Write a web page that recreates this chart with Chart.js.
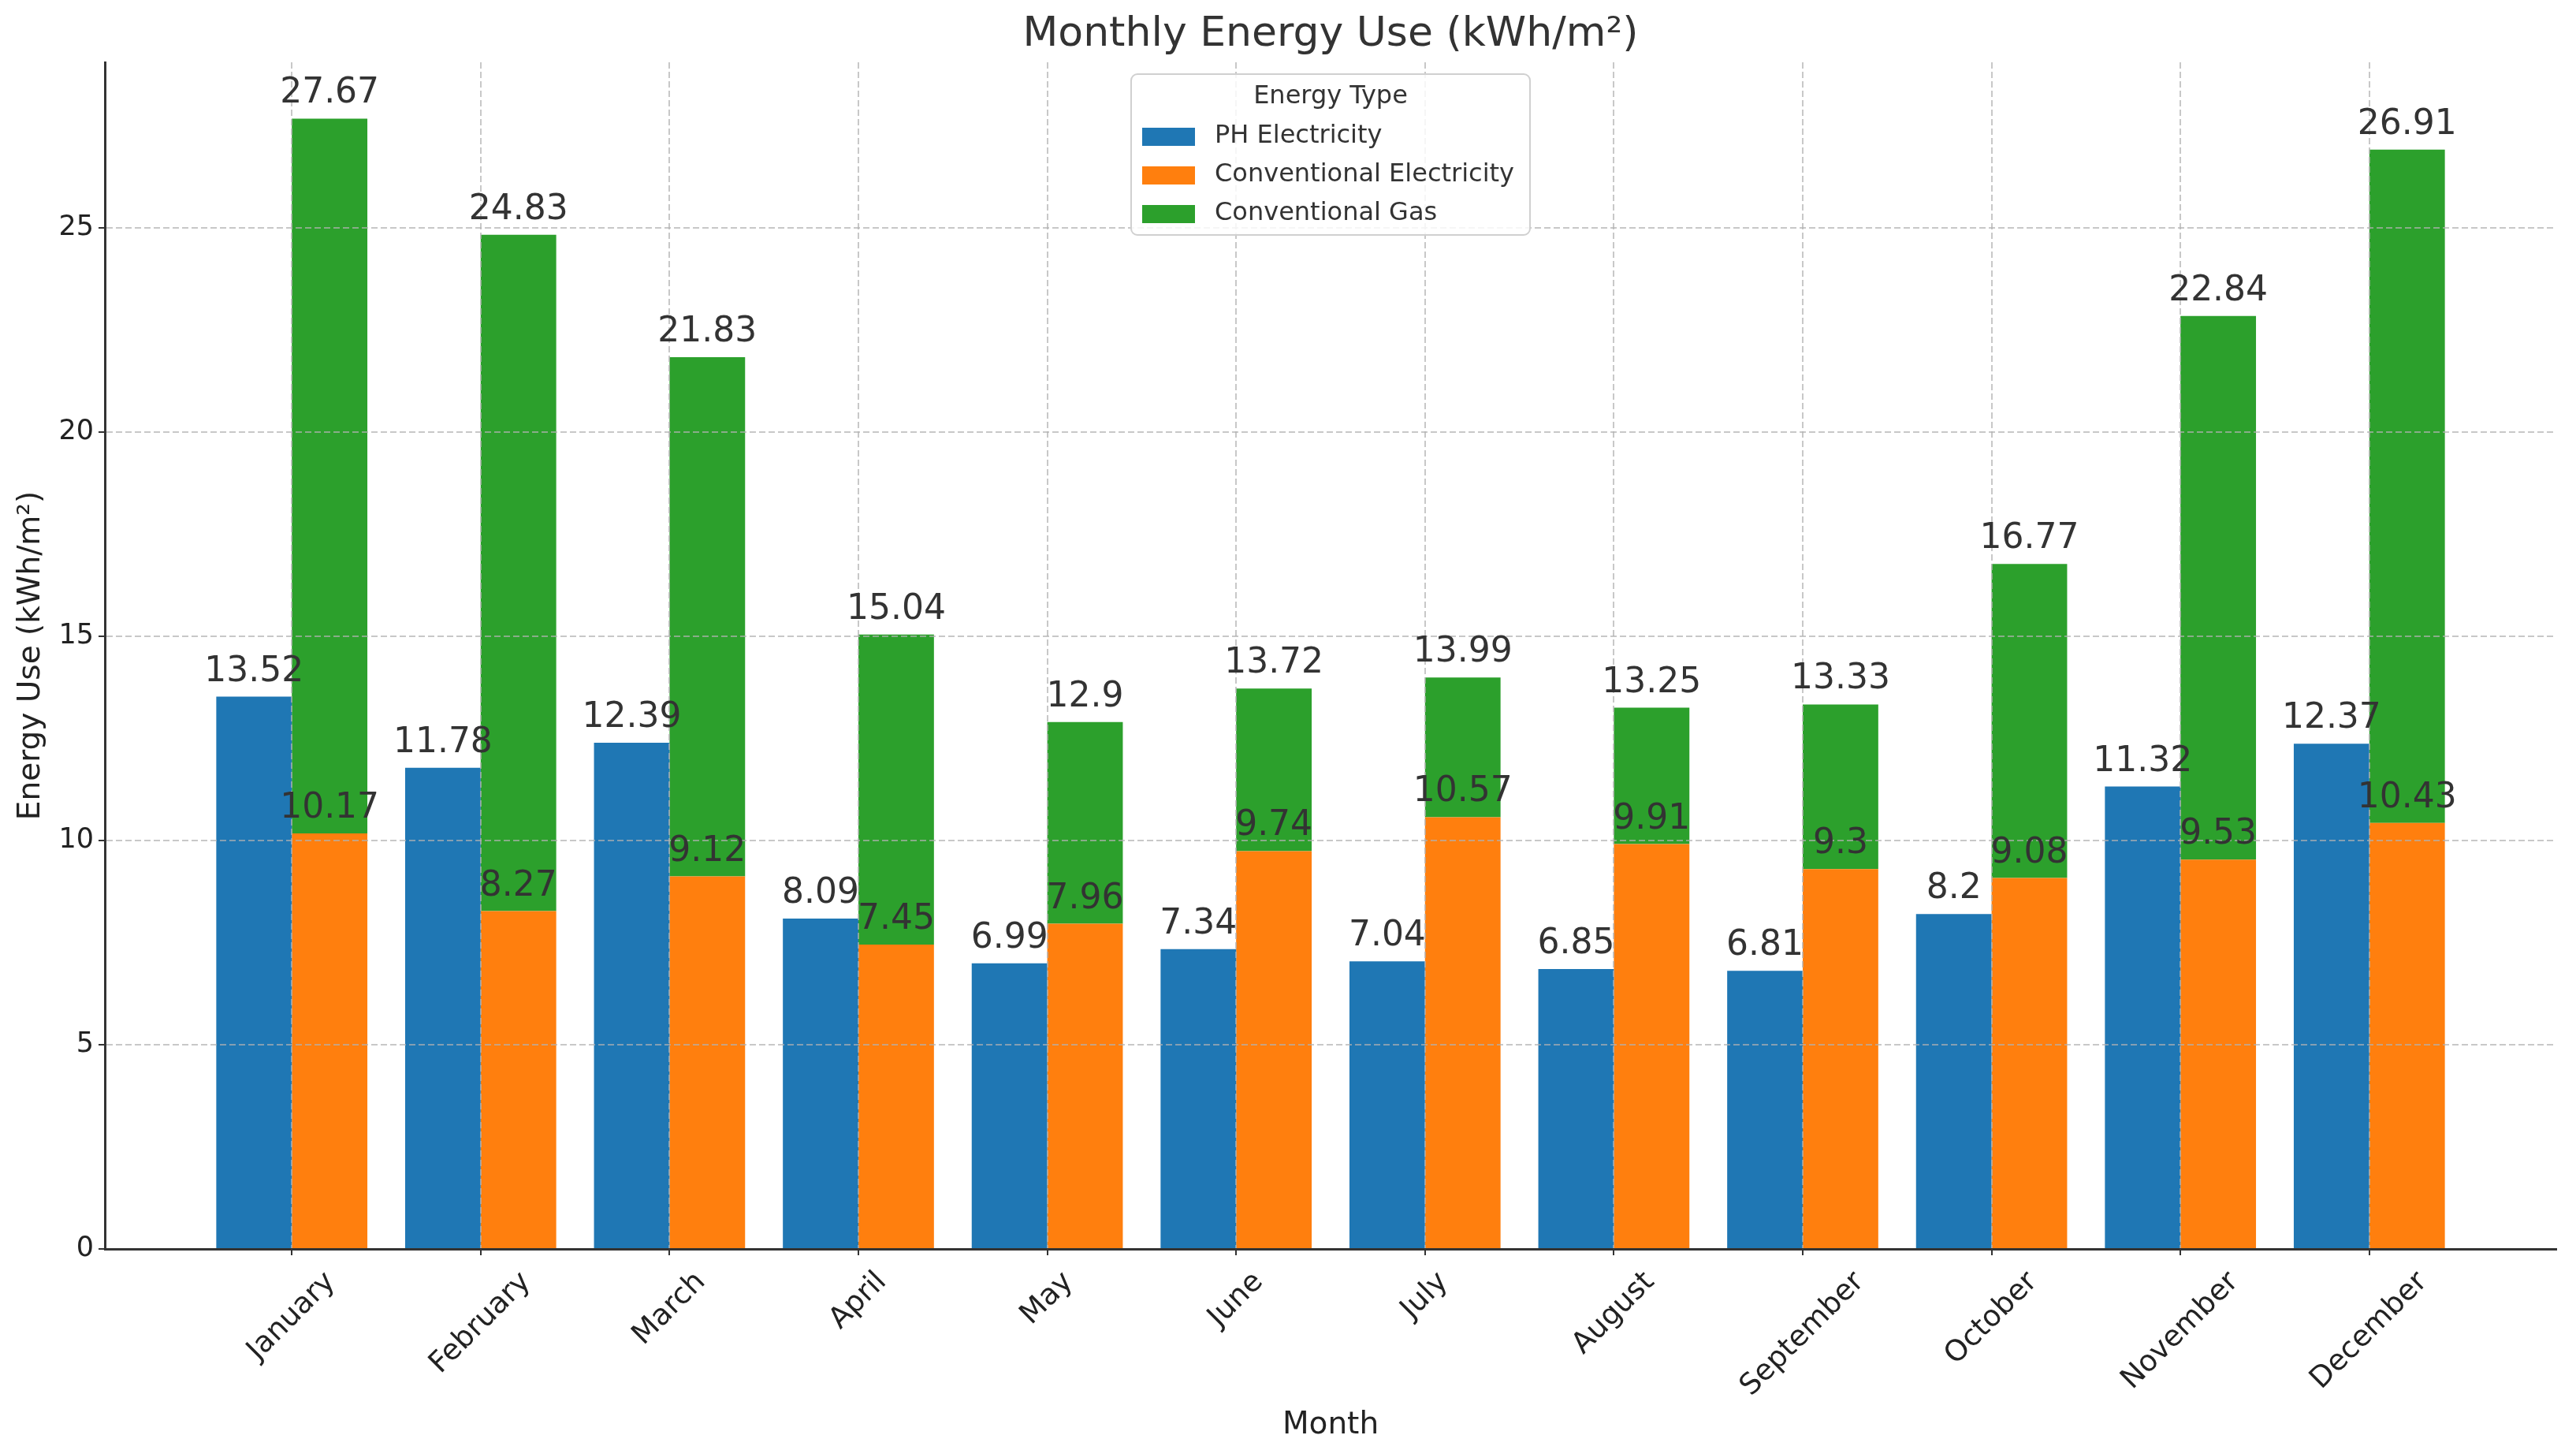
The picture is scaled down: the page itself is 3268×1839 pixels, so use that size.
<!DOCTYPE html>
<html lang="en">
<head>
<meta charset="UTF-8">
<title>Monthly Energy Use</title>
<script src="https://cdn.jsdelivr.net/npm/chart.js@4.4.0/dist/chart.umd.min.js"></script>
<style>
  html, body { margin: 0; padding: 0; background: #fff; }
  canvas { display: block; }
</style>
</head>
<body>
<canvas id="energyChart" width="3268" height="1839" style="width:3268px;height:1839px"></canvas>
<script>
// values
const months = ['January', 'February', 'March', 'April', 'May', 'June',
                'July', 'August', 'September', 'October', 'November', 'December'];
const phElectricity   = [13.52, 11.78, 12.39, 8.09, 6.99, 7.34, 7.04, 6.85, 6.81, 8.2, 11.32, 12.37];
const convElectricity = [10.17, 8.27, 9.12, 7.45, 7.96, 9.74, 10.57, 9.91, 9.3, 9.08, 9.53, 10.43];
const convGas         = [17.50, 16.56, 12.71, 7.59, 4.94, 3.98, 3.42, 3.34, 4.03, 7.69, 13.31, 16.48];
const yTicks = [0, 5, 10, 15, 20, 25];
const seriesNames  = ['PH Electricity', 'Conventional Electricity', 'Conventional Gas'];
const seriesColors = ['#1f77b4', '#ff7f0e', '#2ca02c'];

const FONT = '"DejaVu Sans", sans-serif';
const fmt = v => String(Math.round(v * 100) / 100);
const points = arr => arr.map((v, i) => ({ x: i, y: v }));

// title, axis titles, rotated month labels, bar values and legend
const overlay = {
  id: 'overlay',
  afterDraw(chart) {
    const ctx = chart.ctx;
    const area = chart.chartArea;
    const xs = chart.scales.x;
    const cx = (area.left + area.right) / 2;
    ctx.save();

    // bar values
    ctx.font = '44px ' + FONT;
    ctx.fillStyle = '#333';
    ctx.textAlign = 'center';
    ctx.textBaseline = 'alphabetic';
    chart.data.datasets.forEach((ds, di) => {
      chart.getDatasetMeta(di).data.forEach((bar, i) => {
        let v = ds.data[i].y;
        if (di === 2) v = convElectricity[i] + convGas[i];
        ctx.fillText(fmt(v), bar.x, bar.y - 20);
      });
    });

    // title
    ctx.font = '52px ' + FONT;
    ctx.fillStyle = '#333';
    ctx.textBaseline = 'middle';
    ctx.fillText('Monthly Energy Use (kWh/m²)', cx, 44);

    // axis titles
    ctx.font = '39px ' + FONT;
    ctx.fillStyle = '#222';
    ctx.fillText('Month', cx, 1808);
    ctx.save();
    ctx.translate(40, (area.top + area.bottom) / 2);
    ctx.rotate(-Math.PI / 2);
    ctx.fillText('Energy Use (kWh/m²)', 0, 0);
    ctx.restore();

    // month labels, rotated 45 and centred under the tick
    ctx.font = '37px ' + FONT;
    months.forEach((m, i) => {
      const x = xs.getPixelForValue(i);
      const w = ctx.measureText(m).width;
      const d = (w + 37 * 1.16) * Math.SQRT1_2;
      ctx.save();
      ctx.translate(x, area.bottom + 8 + 13 + d / 2);
      ctx.rotate(-Math.PI / 4);
      ctx.fillText(m, 0, 0);
      ctx.restore();
    });

    // legend
    const bw = 506, bh = 204;
    const x0 = cx - bw / 2, y0 = 94;
    ctx.beginPath();
    ctx.roundRect(x0, y0, bw, bh, 8);
    ctx.fillStyle = 'rgba(255,255,255,0.85)';
    ctx.fill();
    ctx.strokeStyle = '#d0d0d0';
    ctx.lineWidth = 2;
    ctx.stroke();
    ctx.font = '32px ' + FONT;
    ctx.fillStyle = '#333';
    ctx.textAlign = 'center';
    ctx.fillText('Energy Type', cx, y0 + 29);
    ctx.textAlign = 'left';
    seriesNames.forEach((name, k) => {
      const yc = y0 + 79 + k * 49;
      ctx.fillStyle = seriesColors[k];
      ctx.fillRect(x0 + 14, yc - 11, 67, 23);
      ctx.fillStyle = '#333';
      ctx.fillText(name, x0 + 106, yc);
    });

    ctx.restore();
  }
};

const gridColor = c => (c.tick && c.tick.value === 0 && c.scale.axis === 'y') ? 'rgba(0,0,0,0)' : 'rgba(176,176,176,0.7)';

const gridStyle = {
  color: gridColor,
  lineWidth: 2,
  offset: false,
  z: 1,
  drawTicks: true,
  tickLength: 8,
  tickColor: '#333',
  tickWidth: 2
};

new Chart(document.getElementById('energyChart'), {
  type: 'bar',
  data: {
    datasets: [
      { label: seriesNames[0], data: points(phElectricity),   backgroundColor: seriesColors[0], stack: 'ph' },
      { label: seriesNames[1], data: points(convElectricity), backgroundColor: seriesColors[1], stack: 'conv' },
      { label: seriesNames[2], data: points(convGas),         backgroundColor: seriesColors[2], stack: 'conv' }
    ]
  },
  options: {
    responsive: false,
    animation: false,
    devicePixelRatio: 1,
    categoryPercentage: 0.8,
    barPercentage: 1.0,
    layout: { padding: { top: 79, right: 25, left: 0, bottom: 0 } },
    plugins: {
      legend: { display: false },
      title: { display: false },
      tooltip: { enabled: false }
    },
    scales: {
      x: {
        type: 'linear',
        min: -0.99,
        max: 11.99,
        offset: false,
        stacked: true,
        afterBuildTicks: s => { s.ticks = months.map((m, i) => ({ value: i })); },
        afterFit: s => { s.height = 255; },
        ticks: { display: false },
        grid: gridStyle,
        border: { display: true, color: '#333', width: 3, dash: [8, 4], z: 2 }
      },
      y: {
        min: 0,
        max: 29.05,
        stacked: true,
        afterBuildTicks: s => { s.ticks = yTicks.map(v => ({ value: v })); },
        afterFit: s => { s.width = 133; },
        ticks: { font: { family: FONT, size: 35 }, color: '#222', padding: 6 },
        grid: gridStyle,
        border: { display: true, color: '#333', width: 3, dash: [8, 4], z: 2 }
      }
    }
  },
  plugins: [overlay]
});
</script>
</body>
</html>
